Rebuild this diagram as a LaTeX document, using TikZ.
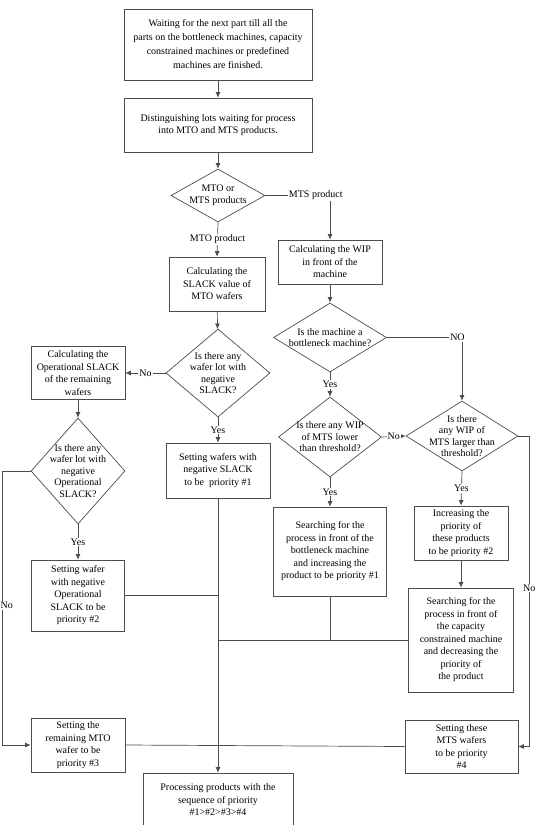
\documentclass[tikz,border=0pt]{standalone}
\usepackage{fontspec}
\setmainfont{Liberation Serif}
\usepackage{tikz}
\usetikzlibrary{arrows.meta, positioning, shapes}
\tikzset{
        flow box/.style 2 args={
		draw=black!70, line width=0.7pt,
		minimum width={#1pt},
		minimum height={#2pt},
		inner sep=0pt, align=center,
		font=\fontsize{10}{12.5}\selectfont,
	  },
        decision/.style 2 args={
		draw=black!70, line width=0.7pt, diamond,
		minimum width={#1pt},
		minimum height={#2pt},
		inner sep=0pt,
	  },
  		question/.style={
    	align=center, inner sep=0pt, font=\fontsize{10}{11.5}\selectfont,
      },
  		annotation/.style={
    	fill=white, inner sep=1pt, font=\fontsize{10}{12}\selectfont,
      },
        flow/.style={draw=black!70, line width=0.7pt},
        go/.style={flow, -{Latex[length=5.5pt,width=5pt]}},
  	}
\begin{document}
\begin{tikzpicture}[x=1pt, y=-1pt]
    \useasboundingbox (0,0) rectangle (536,825);
    % left / middle column
    \node [flow box={188}{71}, font=\fontsize{10}{14}\selectfont] (wait) at (218,44.5) {Waiting for the next part till all the\\parts on the bottleneck machines, capacity\\constrained machines or predefined\\machines are finished.};
    \node [flow box={188}{54}] (sort) at (218,125) {Distinguishing lots waiting for process\\into MTO and MTS products.};
    \node [decision={94}{53}] (q1) at (218,195.5) {};
    \node [question] (q1t) at (q1) {MTO or\\MTS products};
    \node [flow box={96}{54}] (slack) at (217,284) {Calculating the\\SLACK value of\\MTO wafers};
    \node [decision={104}{88}] (q2) at (218,373) {};
    \node [question] (q2t) at (q2) {Is there any\\wafer lot with\\negative\\SLACK?};
    \node [flow box={94}{53}] (opslack) at (78,373) {Calculating the\\Operational SLACK\\of the remaining\\wafers};
    \node [flow box={104}{55}] (prio1) at (218,470.5) {Setting wafers with\\negative SLACK\\to be \ priority \#1};
    \node [decision={94}{106}] (q3) at (78,471) {};
    \node [question] (q3t) at (q3) {Is there any\\wafer lot with\\negative\\Operational\\SLACK?};
    \node [flow box={93}{71}] (prio2) at (78,595.5) {Setting wafer\\with negative\\Operational\\SLACK to be\\priority \#2};
    \node [flow box={94}{54}] (prio3) at (78,745) {Setting the\\remaining MTO\\wafer to be\\priority \#3};
    \node [flow box={150}{54}] (proc) at (218,800) {Processing products with the\\sequence of priority\\\#1>\#2>\#3>\#4};
    % right column
    \node [flow box={104}{44}] (wip) at (330,262) {Calculating the WIP\\in front of the\\machine};
    \node [decision={113}{69}] (q4) at (330,337.5) {};
    \node [question] (q4t) at (q4) {Is the machine a\\bottleneck machine?};
    \node [decision={103}{80}] (q5) at (330,437) {};
    \node [question] (q5t) at (q5) {Is there any WIP\\of MTS lower\\than threshold?};
    \node [decision={112}{70}] (q6) at (462,436) {};
    \node [question] (q6t) at (q6) {Is there\\any WIP of\\MTS larger than\\threshold?};
    \node [flow box={113}{89}] (search1) at (330,551.5) {Searching for the\\process in front of the\\bottleneck machine\\and increasing the\\product to be priority \#1};
    \node [flow box={94}{54}] (raise) at (461,533) {Increasing the\\priority of\\these products\\to be priority \#2};
    \node [flow box={105}{104}] (search2) at (461,640) {Searching for the\\process in front of\\the capacity\\constrained machine\\and decreasing the\\priority of\\the product};
    \node [flow box={113}{53}] (prio4) at (461.5,746.5) {Setting these\\MTS wafers\\to be priority\\\#4};
    % connectors
    \draw [go] (wait) -- (sort);
    \draw [go] (sort) -- (q1);
    \draw [go] (q1.south) -- node[annotation]{MTO product} (slack.north);
    \draw [go] (q1.east) -| node[annotation, pos=.39]{MTS product} (wip.north);
    \draw [go] (slack) -- (q2);
    \draw [go] (q2.west) -- node[annotation]{No} (opslack.east);
    \draw [go] (q2.south) -- node[annotation]{Yes} (prio1.north);
    \draw [go] (opslack) -- (q3);
    \draw [go] (q3.south) -- node[annotation]{Yes} (prio2.north);
    \draw [go] (q3.west) -- ++(-28,0) |- node[annotation, pos=.245, xshift=4pt]{No} (prio3.west);
    \draw [go] (wip) -- (q4);
    \draw [go] (q4.south) -- node[annotation]{Yes} (q5.north);
    \draw [go] (q4.east) -| node[annotation, pos=.47]{NO} (q6.north);
    \draw [go] (q5.east) -- node[annotation]{No} (q6.west);
    \draw [go] (q5.south) -- node[annotation]{Yes} (search1.north);
    \draw [go] (q6.south) -- node[annotation]{Yes} (raise.north);
    \draw [go] (q6.east) -- ++(11,0) |- node[annotation, pos=.245]{No} (prio4.east);
    \draw [go] (raise) -- (search2);
    \draw [go] (prio1.south) -- (proc.north);
    \draw [flow] (prio2.east) -- (prio2.east -| prio1.south);
    \draw [flow] (search1.south) -- (search1.south |- search2.west);
    \draw [flow] (search2.west) -- (search2.west -| prio1.south);
    \draw [flow] (prio3.east) -- (prio4.west);
  \end{tikzpicture}
\end{document}
